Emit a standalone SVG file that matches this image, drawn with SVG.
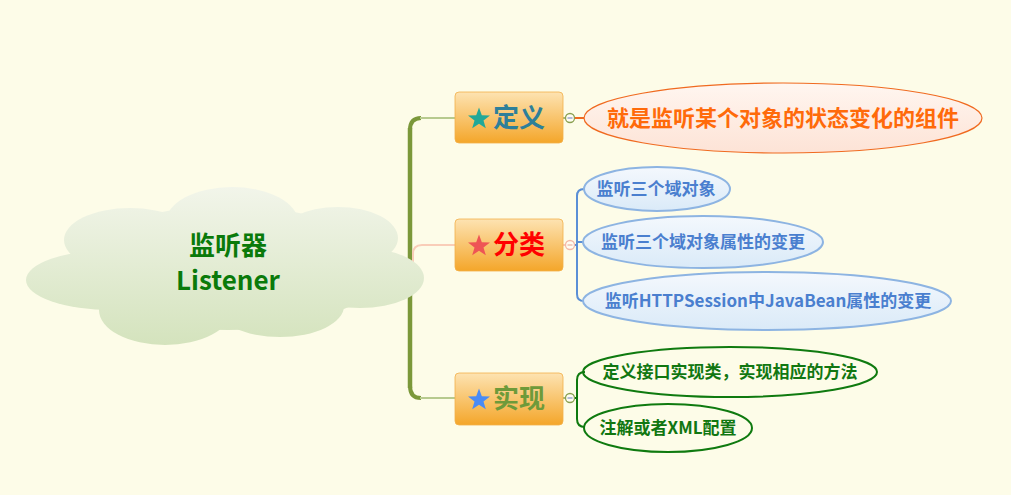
<svg xmlns="http://www.w3.org/2000/svg" width="1011" height="495" viewBox="0 0 1011 495">
<style>
.t{font-family:"Noto Sans CJK SC","Noto Sans",sans-serif;font-weight:bold}
.box{fill:url(#boxg);stroke:#F2B04A;stroke-width:0.8}
.blue{fill:url(#blueg);stroke:#8DB4E2;stroke-width:2}
.grn{fill:none;stroke:#0F7A0F;stroke-width:2}
.bt{font-size:17px;fill:#4A7FCF;text-anchor:middle}
.gt{font-size:17px;fill:#117711;text-anchor:middle}
.col{fill:#FFFDF2;stroke-width:1.3}
</style>
<defs>
<linearGradient id="boxg" x1="0" y1="0" x2="0" y2="1"><stop offset="0" stop-color="#FDE3B2"/><stop offset="1" stop-color="#F4A62A"/></linearGradient>
<linearGradient id="cloudg" gradientUnits="userSpaceOnUse" x1="0" y1="187" x2="0" y2="345"><stop offset="0" stop-color="#F2F5EA"/><stop offset="1" stop-color="#D4E3BD"/></linearGradient>
<linearGradient id="blueg" x1="0" y1="0" x2="0" y2="1"><stop offset="0" stop-color="#F4F8FD"/><stop offset="1" stop-color="#DAEAF8"/></linearGradient>
<linearGradient id="peachg" x1="0" y1="0" x2="0" y2="1"><stop offset="0" stop-color="#FFF6F0"/><stop offset="1" stop-color="#FDE3D6"/></linearGradient>
<polygon id="star" points="0,-11.5 2.8,-3.8 11,-3.6 4.5,1.5 6.8,9.3 0,4.7 -6.8,9.3 -4.5,1.5 -11,-3.6 -2.8,-3.8"/>
</defs>
<rect width="1011" height="495" fill="#FDFCE8"/>
<g id="connectors" fill="none">
<path d="M410,130 Q410,118 421,118" stroke="#7B983A" stroke-width="4"/>
<path d="M410,128 V388" stroke="#7B983A" stroke-width="4.5"/>
<path d="M410,386 Q410,398 421,398" stroke="#7B983A" stroke-width="4"/>
<path d="M420,118 H455" stroke="#B7CA8E" stroke-width="2"/>
<path d="M420,398 H455" stroke="#B7CA8E" stroke-width="2"/>
<path d="M413,262 V254 Q413,245 422,245 H455" stroke="#F9CDB8" stroke-width="2"/>
<path d="M563,118 H566" stroke="#8AA050" stroke-width="1.5"/>
<path d="M574,118 H585" stroke="#F06A20" stroke-width="2"/>
<path d="M563,245 H566" stroke="#F5B8A8" stroke-width="1.5"/>
<path d="M574,245 H577 M584,189 Q577,189 577,196 V294 Q577,301 584,301 M577,242 H585" stroke="#5B8FD6" stroke-width="2"/>
<path d="M563,398 H566" stroke="#8AA050" stroke-width="1.5"/>
<path d="M574,398 H577 M585,372 Q577,372 577,380 V419 Q577,427 585,427" stroke="#0F7A0F" stroke-width="2"/>
<circle class="col" cx="570" cy="118" r="4.5" stroke="#8AA050"/>
<path d="M567.5,118 H572.5" stroke="#6A7CC0" stroke-width="1"/>
<circle class="col" cx="570" cy="245" r="4.5" stroke="#F5B8A8"/>
<path d="M567.5,245 H572.5" stroke="#E8A090" stroke-width="1"/>
<circle class="col" cx="570" cy="398" r="4.5" stroke="#8AA050"/>
<path d="M567.5,398 H572.5" stroke="#6A7CC0" stroke-width="1"/>
</g>
<g id="root">
<g fill="url(#cloudg)">
<ellipse cx="232" cy="222" rx="66" ry="35"/>
<ellipse cx="130" cy="240" rx="66" ry="32"/>
<ellipse cx="338" cy="238" rx="60" ry="31"/>
<ellipse cx="112" cy="280" rx="86" ry="30"/>
<ellipse cx="360" cy="278" rx="64" ry="30"/>
<ellipse cx="165" cy="310" rx="66" ry="35"/>
<ellipse cx="280" cy="306" rx="64" ry="31"/>
<ellipse cx="228" cy="268" rx="155" ry="62"/>
</g>
<text class="t" x="228" y="255" font-size="26" fill="#0A7A0A" text-anchor="middle">监听器</text>
<text class="t" x="228" y="290" font-size="26" fill="#0A7A0A" text-anchor="middle">Listener</text>
</g>
<g id="def">
<rect class="box" x="455" y="92" width="108" height="51" rx="4"/>
<use href="#star" x="479" y="119" fill="#22A898"/>
<text class="t" x="493" y="127" font-size="26" fill="#2E7F9A">定义</text>
</g>
<g id="def-1">
<ellipse cx="783" cy="118" rx="199" ry="35" fill="url(#peachg)" stroke="#F06A20" stroke-width="1.2"/>
<text class="t" x="783" y="126" font-size="22" fill="#FF6A0A" text-anchor="middle">就是监听某个对象的状态变化的组件</text>
</g>
<g id="cls">
<rect class="box" x="455" y="219" width="108" height="52" rx="4"/>
<use href="#star" x="479" y="246" fill="#EE5555"/>
<text class="t" x="493" y="254" font-size="26" fill="#FF0000">分类</text>
</g>
<g id="cls-1">
<ellipse class="blue" cx="657" cy="189" rx="73" ry="22"/>
<text class="t bt" x="656" y="195">监听三个域对象</text>
</g>
<g id="cls-2">
<ellipse class="blue" cx="703" cy="242" rx="120" ry="26"/>
<text class="t bt" x="703" y="248">监听三个域对象属性的变更</text>
</g>
<g id="cls-3">
<ellipse class="blue" cx="767" cy="301" rx="184" ry="29"/>
<text class="t bt" x="768" y="307">监听HTTPSession中JavaBean属性的变更</text>
</g>
<g id="impl">
<rect class="box" x="455" y="373" width="108" height="52" rx="4"/>
<use href="#star" x="479" y="400" fill="#4A8BF5"/>
<text class="t" x="493" y="408" font-size="26" fill="#6E9A3A">实现</text>
</g>
<g id="impl-1">
<ellipse class="grn" cx="730" cy="372" rx="147" ry="25"/>
<text class="t gt" x="730" y="378">定义接口实现类，实现相应的方法</text>
</g>
<g id="impl-2">
<ellipse class="grn" cx="668" cy="428" rx="84" ry="24"/>
<text class="t gt" x="668" y="434">注解或者XML配置</text>
</g>
</svg>
